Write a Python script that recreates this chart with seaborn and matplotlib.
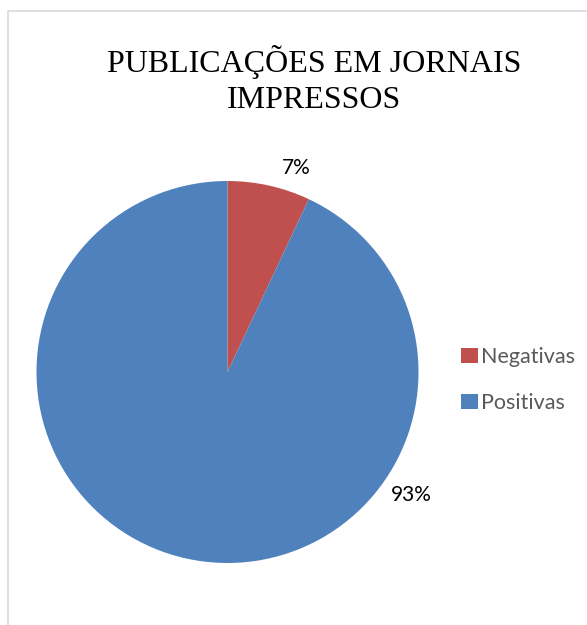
import matplotlib
matplotlib.use("Agg")
import matplotlib.pyplot as plt
import seaborn as sns
import numpy as np
from matplotlib.patches import Rectangle

sns.set_theme(style="white")

categories = ["Negativas", "Positivas"]
values = [7, 93]
colors = ["#C0504D", "#4F81BD"]
title = "PUBLICAÇÕES EM JORNAIS\nIMPRESSOS"

fig = plt.figure(figsize=(5.87, 6.25), dpi=100)
fig.patch.set_facecolor("white")

# light chart border
fig.add_artist(Rectangle((8/587, -0.1), 1.2, (625-11)/625 + 0.1, transform=fig.transFigure,
                         fill=False, edgecolor="#D9D9D9", linewidth=1.2))

ax = fig.add_axes([(227.5-191)/587, (625-372-191)/625, 382/587, 382/625])
wedges, texts, autotexts = ax.pie(values, colors=colors, startangle=90, counterclock=False,
                                  autopct=lambda p: f"{p:.0f}%", pctdistance=1.1,
                                  wedgeprops=dict(linewidth=0))
ax.set_xlim(-1, 1)
ax.set_ylim(-1, 1)
ax.set_aspect("equal")

label_pos = [((296.5-227.5)/191, (372-168)/191), ((411.5-227.5)/191, (372-495)/191)]
for t, pos in zip(autotexts, label_pos):
    t.set_position(pos)
    t.set_fontsize(15)
    t.set_color("#000000")
    t.set_family(["Lato", "DejaVu Sans"])
    t.set_ha("center")
    t.set_va("center")

fig.text(314/587, 1 - 80/625, title, ha="center", va="center",
         family=["Liberation Serif", "DejaVu Serif"], fontsize=23, color="#000000",
         linespacing=1.3)

leg = fig.legend(wedges, categories, loc="center left", bbox_to_anchor=(442/587, 1 - 380/625),
                 frameon=False, handlelength=0.75, handleheight=0.75, handletextpad=0.15,
                 labelspacing=1.2, prop={"family": "Lato", "size": 15.5})
for t in leg.get_texts():
    t.set_color("#595959")

fig.savefig("out.png", dpi=100, facecolor="white")
